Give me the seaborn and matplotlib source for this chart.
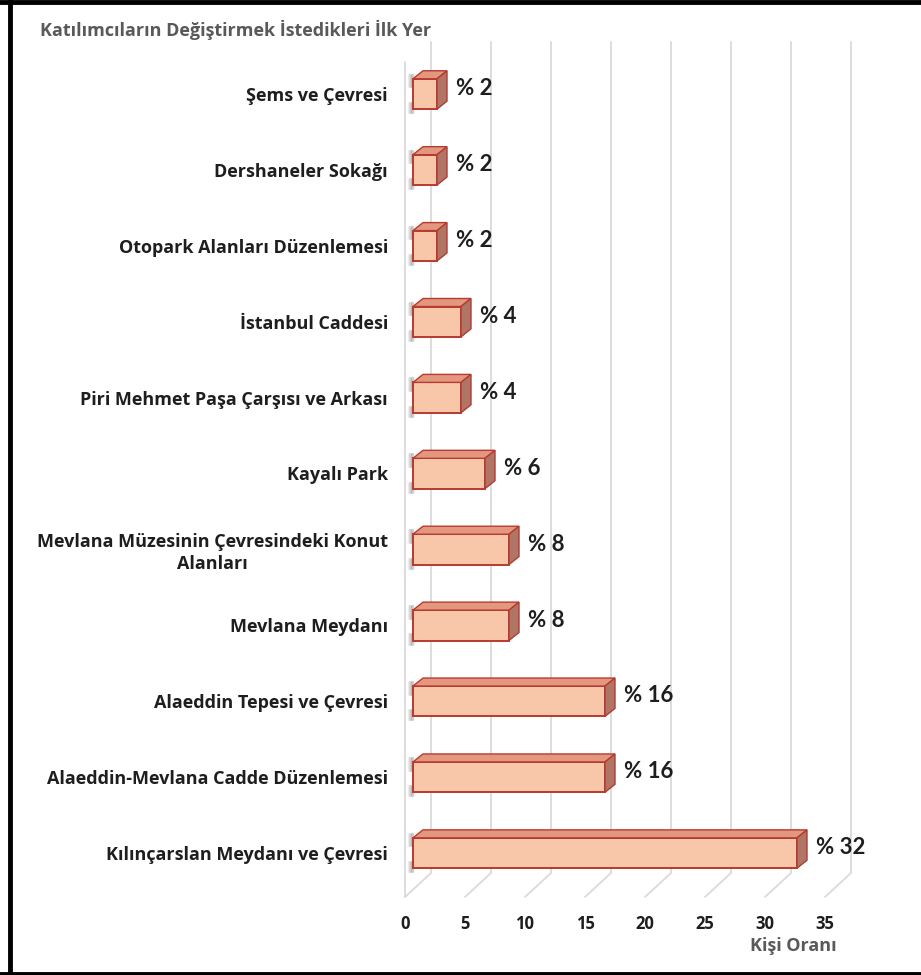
import numpy as np
import pandas as pd
import matplotlib
matplotlib.use("Agg")
import matplotlib.pyplot as plt
import seaborn as sns
from matplotlib.patches import Polygon
from matplotlib.lines import Line2D

# ---------------- data ----------------
categories = [
    "Şems ve Çevresi",
    "Dershaneler Sokağı",
    "Otopark Alanları Düzenlemesi",
    "İstanbul Caddesi",
    "Piri Mehmet Paşa Çarşısı ve Arkası",
    "Kayalı Park",
    "Mevlana Müzesinin Çevresindeki Konut\nAlanları",
    "Mevlana Meydanı",
    "Alaeddin Tepesi ve Çevresi",
    "Alaeddin-Mevlana Cadde Düzenlemesi",
    "Kılınçarslan Meydanı ve Çevresi",
]
values = [2, 2, 2, 4, 4, 6, 8, 8, 16, 16, 32]
value_labels = [f"% {v}" for v in values]
x_ticks = [0, 5, 10, 15, 20, 25, 30, 35]
title = "Katılımcıların Değiştirmek İstedikleri İlk Yer"
x_label = "Kişi Oranı"

# ---------------- style ----------------
FRONT = "#F8C6A8"
TOP = "#E2977E"
SIDE = "#B07565"
EDGE = "#B83A30"
GRID = "#DADADA"
TEXT = "#1E1E1E"
GRAYTXT = "#595959"
LABEL_FONT = ["Open Sans", "DejaVu Sans"]
VALUE_FONT = ["Lato", "DejaVu Sans"]

sns.set_style("white")
plt.rcParams["font.family"] = LABEL_FONT

W, H = 921, 975
fig = plt.figure(figsize=(W / 100, H / 100), dpi=100)
ppx = 12.0                      # pixels per unit on the value axis
XMIN, XMAX = -1, 36
x_zero = 413                    # pixel of value 0 on the bar front plane
ax_l = x_zero + XMIN * ppx
ax_r = x_zero + XMAX * ppx
ax_t, ax_b = 56, 891
ax = fig.add_axes([ax_l / W, 1 - ax_b / H, (ax_r - ax_l) / W, (ax_b - ax_t) / H])
n = len(categories)
ppy = (ax_b - ax_t) / n

df = pd.DataFrame({"Yer": categories, "Oran": values})
sns.barplot(data=df, x="Oran", y="Yer", orient="h", order=categories,
            width=0.4, color=FRONT, edgecolor=EDGE, linewidth=1.4,
            saturation=1, ax=ax, zorder=3)

# ticks (floor-front positions sit 8 px left of the bar plane)
ax.set_xticks(np.array(x_ticks) - 8 / ppx, labels=[str(t) for t in x_ticks])
ax.set_xlim(XMIN, XMAX)
ax.set_ylim(n - 0.5, -0.5)

def py(pixel_y):
    return (pixel_y - ax_t) / ppy - 0.5

# back-wall gridlines + floor
for v in x_ticks:
    xb = v + 18 / ppx
    xf = v - 8 / ppx
    ax.add_line(Line2D([xb, xb, xf], [py(42), py(873), py(897)],
                       color=GRID, lw=1.3, zorder=0, clip_on=False))
ax.add_line(Line2D([-8 / ppx, -8 / ppx], [py(62), py(897)],
                   color=GRID, lw=1.3, zorder=0, clip_on=False))

# 3D faces
dx = 10 / ppx
dy = 8 / ppy
for p, lab in zip(ax.patches, value_labels):
    x0 = p.get_x()
    x1 = x0 + p.get_width()
    y0 = p.get_y()
    h = p.get_height()
    top = Polygon([(x0, y0), (x1, y0), (x1 + dx, y0 - dy), (x0 + dx, y0 - dy)],
                  closed=True, facecolor=TOP, edgecolor=EDGE, lw=1.0, zorder=4)
    side = Polygon([(x1, y0), (x1, y0 + h), (x1 + dx, y0 + h - dy), (x1 + dx, y0 - dy)],
                   closed=True, facecolor=SIDE, edgecolor=EDGE, lw=1.0, zorder=4)
    ax.add_patch(top)
    ax.add_patch(side)
    # soft shadow smudges on the left corners
    for k, a in enumerate([0.22, 0.12, 0.06]):
        off = (1.5 + 1.5 * k) / ppx
        ax.add_line(Line2D([x0 - off] * 2, [y0 - dy * 0.5, y0 + h * 0.25],
                           color="#2A2A2A", alpha=a, lw=2.5, zorder=2,
                           solid_capstyle="round", clip_on=False))
        ax.add_line(Line2D([x0 - off] * 2, [y0 + h * 0.8, y0 + h * 1.1],
                           color="#2A2A2A", alpha=a, lw=2.5, zorder=2,
                           solid_capstyle="round", clip_on=False))
    ax.text(x1 + dx + 9 / ppx, y0 + h / 2 - 0.07, lab, ha="left", va="center",
            fontsize=16, fontweight="bold", color=TEXT, zorder=5,
            family=VALUE_FONT)

ax.tick_params(axis="x", length=0, pad=17, labelsize=12, labelcolor=TEXT)
ax.tick_params(axis="y", length=0, pad=9.4, labelsize=13, labelcolor=TEXT)
for lab in ax.get_xticklabels():
    lab.set_fontweight("bold")
for lab in ax.get_yticklabels():
    lab.set_fontweight("bold")
    lab.set_multialignment("center")
    lab.set_linespacing(1.25)
ax.set_xlabel("")
ax.set_ylabel("")
for s in ax.spines.values():
    s.set_visible(False)
ax.grid(False)

fig.text(40 / W, 1 - 30 / H, title, ha="left", va="center", fontsize=13,
         fontweight="bold", color=GRAYTXT)
fig.text(793 / W, 1 - 946 / H, x_label, ha="center", va="center", fontsize=13,
         fontweight="bold", color=GRAYTXT)

# outer frame (top, left, bottom)
for xs, ys in [([0, 1], [1 - 2 / H, 1 - 2 / H]),
               ([9.5 / W, 9.5 / W], [0, 1]),
               ([0, 1], [1.5 / H, 1.5 / H])]:
    fig.add_artist(Line2D(xs, ys, transform=fig.transFigure, color="black", lw=3.5))

fig.savefig("out.png", dpi=100, facecolor="white")
